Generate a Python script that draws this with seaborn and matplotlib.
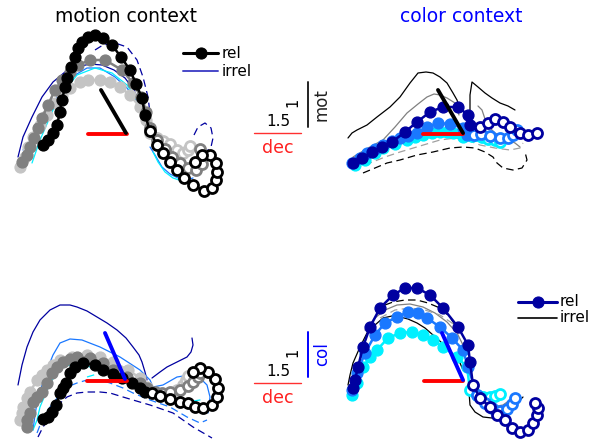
import matplotlib
matplotlib.use("Agg")
import matplotlib.pyplot as plt
import seaborn as sns

sns.set_style("white")
plt.rcParams['font.family'] = ['DejaVu Sans']
plt.rcParams['text.color'] = 'black'

# ---------------- colours ----------------
K, G, LG = "#000000", "#808080", "#c4c4c4"
DB, MB, CY = "#0000a0", "#1a78ff", "#00f0ff"
RED = "#ff0000"

# ============ top-left: motion context, motion axis ============
TL_K_X = [43, 48, 53, 57, 60, 62, 65, 67, 71, 75, 78, 82, 88, 95, 103, 112, 121, 130, 136, 142, 145]
TL_K_Y = [145, 140, 133, 125, 112, 100, 87, 78, 67, 57, 48, 42, 37, 35, 38, 45, 57, 70, 84, 98, 115]
TL_K_OX = [150, 157, 163, 170, 177, 184, 193, 204, 212, 216, 217, 216, 210, 202, 195]
TL_K_OY = [131, 145, 153, 162, 170, 178, 185, 191, 188, 180, 172, 163, 155, 155, 162]
TL_G_X = [22, 27, 30, 34, 38, 42, 48, 55, 62, 70, 78, 90, 105, 122, 133, 141, 146]
TL_G_Y = [162, 155, 147, 138, 128, 118, 105, 90, 80, 72, 65, 60, 60, 70, 83, 97, 112]
TL_G_OX = [150, 157, 165, 172, 180, 188, 196, 202, 204, 200]
TL_G_OY = [128, 140, 149, 157, 163, 168, 170, 164, 155, 149]
TL_L_X = [20, 25, 28, 33, 40, 47, 55, 62, 70, 80, 88, 100, 110, 120, 130, 140, 146]
TL_L_Y = [167, 157, 147, 137, 125, 115, 103, 95, 88, 82, 80, 80, 82, 87, 95, 107, 120]
TL_L_OX = [150, 157, 163, 170, 177, 183, 188, 190]
TL_L_OY = [133, 138, 141, 144, 150, 153, 150, 146]

TL_DB_X = [18, 23, 32, 42, 53, 65, 77, 90, 102, 114, 125, 134, 140]
TL_DB_Y = [157, 137, 117, 97, 82, 72, 67, 64, 65, 70, 78, 90, 104]
TL_DBD_X = [95, 103, 115, 127, 137, 143, 148, 150]
TL_DBD_Y = [50, 45, 43, 47, 60, 77, 97, 113]
TL_DBL_X = [194, 198, 205, 211, 213, 211, 206]
TL_DBL_Y = [135, 127, 123, 128, 138, 147, 152]
TL_MB_X = [23, 33, 43, 57, 70, 87, 100, 115, 127, 137, 143]
TL_MB_Y = [150, 137, 123, 97, 78, 68, 68, 77, 88, 102, 118]
TL_MB2_X = [150, 155, 162, 170, 178, 186, 193]
TL_MB2_Y = [147, 155, 167, 174, 178, 180, 178]
TL_CY_X = [32, 40, 53, 65, 77, 95, 112, 127, 137, 143]
TL_CY_Y = [163, 140, 110, 90, 75, 68, 73, 85, 100, 117]
TL_CY2_X = [153, 158, 165, 173, 182, 190]
TL_CY2_Y = [152, 162, 172, 178, 181, 180]

TL_DEC_X, TL_DEC_Y = [88, 127], [134, 134]
TL_AX_X, TL_AX_Y = [101, 126], [90, 133]

# ============ top-right: colour context, motion axis ============
TR_DB_X = [353, 362, 372, 382, 392, 405, 417, 430, 443, 458, 468, 470]
TR_DB_Y = [163, 158, 152, 147, 142, 132, 122, 112, 107, 107, 115, 125]
TR_DB_OX = [480, 488, 495, 503, 510, 520, 528, 537]
TR_DB_OY = [127, 123, 119, 122, 127, 133, 135, 133]
TR_MB_X = [352, 360, 367, 375, 383, 392, 400, 408, 417, 427, 438, 450, 463, 467]
TR_MB_Y = [163, 158, 153, 149, 145, 141, 138, 136, 133, 127, 123, 124, 128, 135]
TR_MB_OX = [474, 481, 490, 500, 508, 513, 517]
TR_MB_OY = [135, 134, 136, 138, 138, 135, 130]
TR_CY_X = [355, 365, 375, 383, 395, 407, 415, 423, 432, 440, 447, 453, 463]
TR_CY_Y = [165, 160, 153, 148, 144, 140, 137, 135, 133, 132, 132, 133, 137]
TR_CY_OX = [472, 477, 482, 488, 495, 500]
TR_CY_OY = [136, 135, 137, 139, 140, 142]

TR_K1_X = [348, 352, 357, 367, 377, 390, 400, 410, 418, 426, 433, 440, 447, 453, 457, 461]
TR_K1_Y = [138, 133, 130, 125, 117, 107, 97, 83, 73, 72, 73, 77, 83, 93, 100, 112]
TR_K2_X = [470, 470, 472, 478, 485, 492, 500, 508, 515]
TR_K2_Y = [112, 95, 82, 87, 93, 98, 103, 106, 110]
TR_G1_X = [353, 368, 383, 395, 407, 418, 427, 434, 440, 447, 455, 459]
TR_G1_Y = [157, 148, 140, 127, 113, 104, 97, 94, 95, 98, 103, 115]
TR_G2_X = [478, 482, 487, 495, 505, 515, 520]
TR_G2_Y = [106, 110, 125, 133, 138, 143, 147]
TR_GD_X = [353, 370, 385, 400, 420, 440, 455, 467, 480, 495, 510, 520, 523]
TR_GD_Y = [167, 163, 157, 152, 146, 140, 138, 140, 145, 148, 150, 148, 143]
TR_KD_X = [363, 375, 387, 400, 417, 433, 450, 463, 475, 485, 493, 497, 503, 513, 522, 527, 525]
TR_KD_Y = [173, 168, 163, 160, 155, 152, 148, 147, 148, 152, 157, 163, 168, 170, 168, 160, 152]

TR_DEC_X, TR_DEC_Y = [423, 463], [134, 134]
TR_AX_X, TR_AX_Y = [438, 463], [90, 133]

# ============ bottom-left: motion context, colour axis ============
BL_K_X = [43, 48, 52, 56, 60, 63, 66, 70, 75, 83, 95, 103, 113, 122, 132, 140, 145]
BL_K_Y = [419, 417, 412, 405, 393, 388, 383, 373, 367, 363, 365, 370, 374, 378, 383, 388, 392]
BL_K_OX = [152, 160, 170, 180, 188, 195, 203, 212, 217, 218, 215, 208, 200, 193]
BL_K_OY = [393, 396, 399, 402, 403, 407, 408, 405, 397, 388, 379, 372, 368, 372]
BL_G_X = [27, 27, 30, 33, 37, 42, 47, 52, 57, 63, 70, 77, 90, 103, 113, 127, 140, 147]
BL_G_Y = [427, 420, 413, 402, 397, 392, 383, 373, 367, 362, 359, 357, 358, 363, 370, 377, 383, 388]
BL_G_OX = [155, 162, 170, 180, 188, 193, 198, 200]
BL_G_OY = [392, 393, 392, 390, 386, 382, 377, 373]
BL_L_X = [20, 22, 23, 27, 30, 37, 42, 47, 53, 60, 72, 87, 100, 113, 128, 140, 147]
BL_L_Y = [420, 413, 407, 398, 392, 380, 375, 370, 365, 360, 357, 355, 357, 362, 370, 378, 387]
BL_L_OX = [157, 163, 170, 177, 183, 186, 188]
BL_L_OY = [393, 394, 393, 390, 385, 380, 376]

BL_DB1_X = [18, 22, 27, 33, 40, 50, 60, 70, 77, 87, 97, 107, 117, 126, 133, 139, 142, 145, 147]
BL_DB1_Y = [385, 365, 347, 332, 320, 310, 305, 305, 307, 311, 317, 323, 330, 338, 347, 355, 362, 372, 380]
BL_DB2_X = [152, 160, 167, 177, 187, 191, 193, 192]
BL_DB2_Y = [378, 372, 367, 362, 357, 352, 345, 338]
BL_MB_X = [33, 35, 37, 42, 47, 53, 60, 70, 82, 100, 120, 140, 150, 153, 163, 177, 190, 200, 207, 210, 208]
BL_MB_Y = [430, 415, 403, 385, 370, 355, 343, 339, 340, 347, 357, 370, 380, 387, 385, 377, 375, 378, 385, 397, 413]
BL_CY_X = [33, 37, 40, 45, 50, 57, 63, 77, 100, 123, 143, 160, 187, 200]
BL_CY_Y = [430, 420, 407, 395, 383, 373, 367, 363, 370, 380, 390, 397, 402, 400]
BL_CYD_X = [87, 97, 107, 117, 127, 147, 173, 193, 203]
BL_CYD_Y = [377, 374, 373, 376, 382, 393, 402, 407, 405]
BL_MBD_X = [37, 42, 50, 58, 67, 77, 87, 100, 110, 123, 133, 150, 170, 187, 200, 207]
BL_MBD_Y = [433, 420, 407, 397, 387, 383, 380, 380, 383, 388, 393, 400, 407, 417, 423, 420]
BL_DBD_X = [38, 43, 50, 58, 67, 77, 87, 100, 110, 123, 133, 150, 173, 193, 212]
BL_DBD_Y = [437, 427, 417, 405, 397, 393, 392, 392, 393, 397, 400, 405, 413, 427, 438]

BL_DEC_X, BL_DEC_Y = [87, 127], [381, 381]
BL_AX_X, BL_AX_Y = [105, 125], [333, 379]

# ============ bottom-right: colour context, colour axis ============
BR_DB_X = [353, 355, 358, 363, 370, 380, 393, 405, 417, 430, 443, 458, 468, 470]
BR_DB_Y = [388, 380, 367, 347, 327, 308, 295, 288, 288, 295, 308, 327, 345, 362]
BR_DB_OX = [473, 480, 490, 497, 505, 512, 520, 528, 533, 537, 538, 535]
BR_DB_OY = [385, 398, 407, 415, 420, 428, 432, 430, 423, 415, 408, 403]
BR_MB_X = [352, 357, 365, 375, 385, 397, 408, 418, 427, 440, 452, 463, 468]
BR_MB_Y = [390, 373, 353, 335, 323, 317, 312, 313, 318, 327, 338, 350, 367]
BR_MB_OX = [477, 485, 492, 500, 507, 512, 515]
BR_MB_OY = [395, 403, 408, 411, 409, 404, 398]
BR_CY_X = [352, 357, 363, 370, 377, 388, 400, 412, 423, 433, 443, 457, 467]
BR_CY_Y = [395, 383, 367, 357, 350, 338, 333, 332, 335, 340, 347, 357, 367]
BR_CY_OX = [470, 477, 483, 490, 495, 500]
BR_CY_OY = [390, 395, 397, 397, 396, 394]

BR_K1_X = [348, 350, 353, 360, 367, 375, 383, 392, 400, 408, 417, 425, 433, 442, 450, 455, 460, 463]
BR_K1_Y = [385, 375, 363, 347, 333, 325, 318, 316, 317, 319, 323, 328, 335, 343, 352, 357, 363, 370]
BR_K2_X = [472, 469, 470, 475, 483, 492, 500, 507, 513, 518, 523]
BR_K2_Y = [382, 392, 405, 412, 417, 418, 417, 412, 407, 402, 397]
BR_KD_X = [385, 393, 405, 417, 428, 440, 450, 455]
BR_KD_Y = [305, 302, 300, 300, 303, 308, 317, 325]
BR_G1_X = [365, 375, 385, 397, 410, 423, 435, 447, 457, 463]
BR_G1_Y = [330, 318, 310, 305, 304, 307, 313, 322, 333, 345]
BR_G2_X = [475, 483, 492, 503, 510]
BR_G2_Y = [395, 403, 407, 405, 400]
BR_GD_X = [380, 395, 410, 425, 440, 452, 460]
BR_GD_Y = [318, 310, 308, 310, 315, 323, 335]

BR_DEC_X, BR_DEC_Y = [424, 463], [381, 381]
BR_AX_X, BR_AX_Y = [442, 463], [333, 380]

# ---------------- scale bars / legends ----------------
SB_DEC_X = [254, 301]
SB_TOP_Y, SB_BOT_Y = 133, 383
SB_VERT_X = [308, 308]
SB_TOP_VY, SB_BOT_VY = [82, 127], [332, 377]
LEG_TL_X, LEG_TL_Y = [183, 218], [53, 71]
LEG_BR_X, LEG_BR_Y = [518, 557], [302, 318]

# ---------------- drawing ----------------
fig = plt.figure(figsize=(6.02, 4.40), dpi=100)
ax = fig.add_axes([0, 0, 1, 1])
ax.set_xlim(0, 602)
ax.set_ylim(440, 0)
ax.axis("off")

MS = 7.8
DASH = (0, (6, 3.5))


def line(xs, ys, color, lw=0.9, ls="-", z=2):
    sns.lineplot(x=xs, y=ys, sort=False, estimator=None, ax=ax,
                 color=color, linewidth=lw, linestyle=ls, zorder=z)


def rel(fx, fy, ox, oy, color, z):
    line(fx + ox, fy + oy, color, lw=1.8, z=z)
    sns.lineplot(x=fx, y=fy, sort=False, estimator=None, ax=ax, color=color,
                 linestyle="", marker="o", markersize=MS, markerfacecolor=color,
                 markeredgecolor=color, markeredgewidth=1.0, zorder=z)
    sns.lineplot(x=ox, y=oy, sort=False, estimator=None, ax=ax, color=color,
                 linestyle="", marker="o", markersize=MS - 0.6, markerfacecolor="white",
                 markeredgecolor=color, markeredgewidth=2.0, zorder=z)


# top-left irrelevant
line(TL_DB_X, TL_DB_Y, DB)
line(TL_DBD_X, TL_DBD_Y, DB, ls=DASH)
line(TL_DBL_X, TL_DBL_Y, DB, ls=DASH)
line(TL_MB_X, TL_MB_Y, MB)
line(TL_MB2_X, TL_MB2_Y, MB)
line(TL_CY_X, TL_CY_Y, CY)
line(TL_CY2_X, TL_CY2_Y, CY)
rel(TL_L_X, TL_L_Y, TL_L_OX, TL_L_OY, LG, 3)
rel(TL_G_X, TL_G_Y, TL_G_OX, TL_G_OY, G, 4)
rel(TL_K_X, TL_K_Y, TL_K_OX, TL_K_OY, K, 5)
line(TL_DEC_X, TL_DEC_Y, RED, lw=2.8, z=6)
line(TL_AX_X, TL_AX_Y, K, lw=2.8, z=6)

# top-right
line(TR_K1_X, TR_K1_Y, K)
line(TR_K2_X, TR_K2_Y, K)
line(TR_G1_X, TR_G1_Y, G)
line(TR_G2_X, TR_G2_Y, G)
line(TR_GD_X, TR_GD_Y, "#a0a0a0", ls=DASH)
line(TR_KD_X, TR_KD_Y, K, ls=DASH)
rel(TR_CY_X, TR_CY_Y, TR_CY_OX, TR_CY_OY, CY, 3)
rel(TR_MB_X, TR_MB_Y, TR_MB_OX, TR_MB_OY, MB, 4)
rel(TR_DB_X, TR_DB_Y, TR_DB_OX, TR_DB_OY, DB, 5)
line(TR_DEC_X, TR_DEC_Y, RED, lw=2.8, z=6)
line(TR_AX_X, TR_AX_Y, K, lw=2.8, z=6)

# bottom-left
line(BL_DB1_X, BL_DB1_Y, DB)
line(BL_DB2_X, BL_DB2_Y, DB)
line(BL_MB_X, BL_MB_Y, MB)
line(BL_CY_X, BL_CY_Y, CY)
line(BL_CYD_X, BL_CYD_Y, CY, ls=DASH)
line(BL_MBD_X, BL_MBD_Y, MB, ls=DASH)
line(BL_DBD_X, BL_DBD_Y, DB, ls=DASH)
rel(BL_L_X, BL_L_Y, BL_L_OX, BL_L_OY, LG, 3)
rel(BL_G_X, BL_G_Y, BL_G_OX, BL_G_OY, G, 4)
rel(BL_K_X, BL_K_Y, BL_K_OX, BL_K_OY, K, 5)
line(BL_DEC_X, BL_DEC_Y, RED, lw=2.8, z=6)
line(BL_AX_X, BL_AX_Y, "#0000ff", lw=2.8, z=6)

# bottom-right
line(BR_K1_X, BR_K1_Y, K)
line(BR_K2_X, BR_K2_Y, K)
line(BR_KD_X, BR_KD_Y, K, ls=DASH)
line(BR_G1_X, BR_G1_Y, G)
line(BR_G2_X, BR_G2_Y, G)
line(BR_GD_X, BR_GD_Y, "#a0a0a0", ls=DASH)
rel(BR_CY_X, BR_CY_Y, BR_CY_OX, BR_CY_OY, CY, 3)
rel(BR_MB_X, BR_MB_Y, BR_MB_OX, BR_MB_OY, MB, 4)
rel(BR_DB_X, BR_DB_Y, BR_DB_OX, BR_DB_OY, DB, 5)
line(BR_DEC_X, BR_DEC_Y, RED, lw=2.8, z=6)
line(BR_AX_X, BR_AX_Y, "#0000ff", lw=2.8, z=6)

# scale bars
for yy, vy, vcol, lab in [(SB_TOP_Y, SB_TOP_VY, "#222222", "mot"),
                          (SB_BOT_Y, SB_BOT_VY, "#0000ff", "col")]:
    line(SB_DEC_X, [yy, yy], "#ff3030", lw=1.0)
    line(SB_VERT_X, vy, vcol, lw=1.4)
    mid = (vy[0] + vy[1]) / 2
    ax.text(322, mid, lab, rotation=90, ha="center", va="center",
            fontsize=12, color=vcol)
    ax.text(293, mid - 2, "1", rotation=90, ha="center", va="center",
            fontsize=10.5, color="black")
    ax.text(278, yy - 11, "1.5", ha="center", va="center", fontsize=11,
            color="black")
    ax.text(278, yy + 15, "dec", ha="center", va="center", fontsize=12.5,
            color="#ff2020")

# legends
line(LEG_TL_X, [LEG_TL_Y[0]] * 2, K, lw=2.2)
sns.lineplot(x=[sum(LEG_TL_X) / 2], y=[LEG_TL_Y[0]], ax=ax, linestyle="",
             marker="o", markersize=8, color=K, markeredgecolor=K)
line(LEG_TL_X, [LEG_TL_Y[1]] * 2, "#4848c8", lw=1.4)
ax.text(LEG_TL_X[1] + 4, LEG_TL_Y[0], "rel", va="center", fontsize=11, color="black")
ax.text(LEG_TL_X[1] + 4, LEG_TL_Y[1], "irrel", va="center", fontsize=11, color="black")

line(LEG_BR_X, [LEG_BR_Y[0]] * 2, DB, lw=2.2)
sns.lineplot(x=[sum(LEG_BR_X) / 2], y=[LEG_BR_Y[0]], ax=ax, linestyle="",
             marker="o", markersize=8, color=DB, markeredgecolor=DB)
line(LEG_BR_X, [LEG_BR_Y[1]] * 2, K, lw=1.2)
ax.text(LEG_BR_X[1] + 3, LEG_BR_Y[0], "rel", va="center", fontsize=11, color="black")
ax.text(LEG_BR_X[1] + 3, LEG_BR_Y[1], "irrel", va="center", fontsize=11, color="black")

# titles
ax.text(126, 17, "motion context", ha="center", va="center", fontsize=13.5,
        color="black")
ax.text(461, 17, "color context", ha="center", va="center", fontsize=13.5,
        color="#0000ff")

if ax.get_legend() is not None:
    ax.get_legend().remove()

fig.savefig("out.png", dpi=100)
